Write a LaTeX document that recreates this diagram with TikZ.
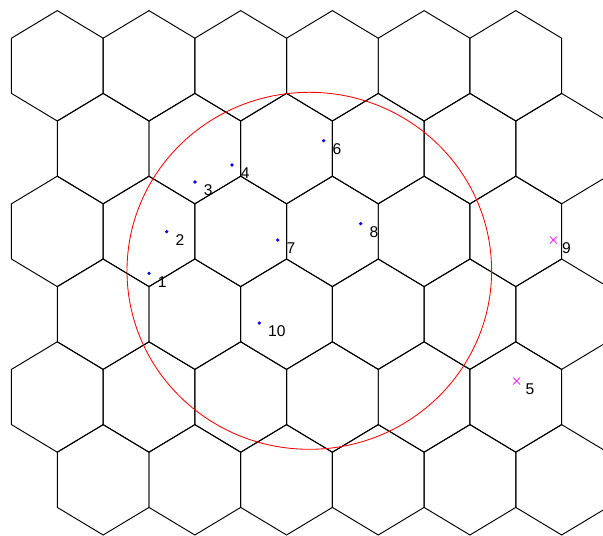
\documentclass[tikz,border=0pt]{standalone}
\usepackage{fontspec}
\setmainfont{Liberation Sans}
\usetikzlibrary{positioning}
\definecolor{hxEdge}{HTML}{000000}
\definecolor{hxRing}{HTML}{FF0000}
\definecolor{hxIn}  {HTML}{0000FF}
\definecolor{hxOut} {HTML}{FF00FF}
\tikzset{
  cell/.style={draw=hxEdge,line width=0.95pt,line join=miter},
  ring/.style={draw=hxRing,line width=0.85pt},
  tag/.style={anchor=west,inner sep=0pt,font=\fontsize{15.6}{18}\selectfont},
}
\begin{document}
\begin{tikzpicture}[x=1pt,y=-1pt]
        \useasboundingbox (0,0) rectangle (603,536);
        % hexagonal cells, six rows of six
        \begin{scope}
          \clip (0,0) rectangle (603,536);
          \foreach \r in {0,...,5}{
            \pgfmathsetmacro{\cy}{65.8+82.8*\r}
            \pgfmathsetmacro{\sx}{57.3+45.85*mod(\r,2)}
            \foreach \k in {0,...,5}{
              \pgfmathsetmacro{\cx}{\sx+91.7*\k}
              \draw[cell] (\cx,\cy-55.2) -- ++(45.85,27.6) -- ++(0,55.2)
                -- ++(-45.85,27.6) -- ++(-45.85,-27.6) -- ++(0,-55.2) -- cycle;
            }
          }
        \end{scope}
        % coverage circle
        \coordinate (hub) at (309.3,270.8);
        \draw[ring] (hub) ellipse [x radius=182.3, y radius=178.5];
        % users inside
        \foreach \n/\px/\py in {1/149/273.3, 2/166.7/231.7, 3/195/182, 4/232/165,
                                6/323.7/140.7, 7/277.7/240, 8/360.7/223.7, 10/259.3/323}{
          \coordinate (p\n) at (\px,\py);
          \fill[hxIn] (p\n) circle [radius=1.8];
          \path (p\n) ++(8.7,8.5) node[tag] (l\n) {\n};
        }
        % users outside
        \foreach \n/\px/\py in {5/516.7/381, 9/553.3/240}{
          \coordinate (p\n) at (\px,\py);
          \draw[hxOut,line width=0.7pt] (p\n) +(-3.5,-3.5) -- +(3.5,3.5)
                                        (p\n) +(-3.5,3.5) -- +(3.5,-3.5);
          \path (p\n) ++(8.7,8.5) node[tag] (l\n) {\n};
        }
\end{tikzpicture}
\end{document}
